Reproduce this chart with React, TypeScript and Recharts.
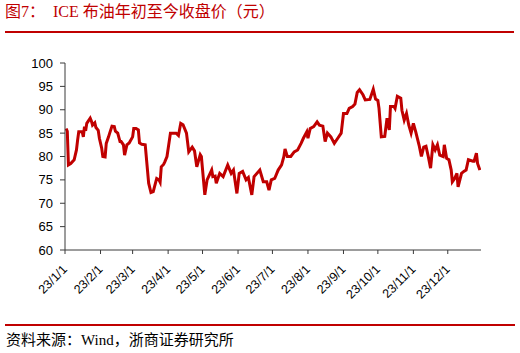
import { Line, LineChart, XAxis, YAxis } from 'recharts'

// 收盘价，日期为 2023 年的 月/日
const dates = [
  '1/2', '1/3', '1/4', '1/6', '1/9', '1/11', '1/12', '1/13', '1/16', '1/17', '1/18', '1/19', '1/20', '1/23', '1/24', '1/25', '1/27', '1/28', '1/30', '1/31',
  '2/2', '2/3', '2/5', '2/6', '2/8', '2/9', '2/11', '2/13', '2/14', '2/16', '2/18', '2/19', '2/21', '2/22', '2/24', '2/26',
  '3/1', '3/2', '3/4', '3/6', '3/7', '3/9', '3/12', '3/15', '3/17', '3/19', '3/22', '3/24', '3/25', '3/26', '3/28', '3/29', '3/31',
  '4/3', '4/8', '4/10', '4/12', '4/14', '4/17', '4/19', '4/22', '4/24', '4/26', '4/29', '4/30',
  '5/3', '5/5', '5/9', '5/10', '5/12', '5/13', '5/16', '5/19', '5/23', '5/26', '5/28', '5/31',
  '6/2', '6/5', '6/8', '6/10', '6/13', '6/15', '6/20', '6/23', '6/26', '6/28', '6/30',
  '7/3', '7/6', '7/9', '7/11', '7/12', '7/14', '7/17', '7/20', '7/23', '7/26', '7/28', '7/31',
  '8/1', '8/3', '8/6', '8/9', '8/11', '8/14', '8/16', '8/18', '8/21', '8/24', '8/27', '8/30',
  '9/1', '9/4', '9/6', '9/9', '9/11', '9/13', '9/15', '9/18', '9/20', '9/24', '9/27', '9/29',
  '10/1', '10/2', '10/4', '10/7', '10/9', '10/11', '10/12', '10/15', '10/16', '10/18', '10/21', '10/22', '10/24', '10/26', '10/28', '10/30',
  '11/1', '11/3', '11/6', '11/8', '11/10', '11/12', '11/14', '11/16', '11/18', '11/20', '11/22', '11/24', '11/27', '11/28', '11/30',
  '12/2', '12/4', '12/5', '12/7', '12/9', '12/10', '12/13', '12/15', '12/17', '12/19', '12/23', '12/24', '12/26', '12/27', '12/29',
]

const closes = [
  86.0, 85.4, 78.2, 78.5, 79.3, 81.4, 83.5, 85.3, 85.3, 84.2, 86.4, 85.5, 87.1, 88.2, 87.6, 86.7, 87.2, 86.2, 85.6, 83.9,
  81.8, 80.0, 79.9, 82.8, 84.2, 85.0, 86.5, 86.4, 85.4, 85.0, 83.2, 83.2, 82.5, 80.3, 82.5, 82.9,
  84.2, 86.0, 86.0, 85.7, 82.9, 82.6, 82.5, 74.3, 72.3, 72.5, 75.3, 75.0, 74.5, 77.8, 78.3, 78.8, 80.0,
  85.0, 85.0, 84.5, 87.1, 86.8, 85.0, 81.0, 82.0, 81.2, 77.8, 80.4, 80.0,
  71.8, 75.0, 77.1, 75.7, 75.8, 74.3, 76.4, 75.7, 78.2, 76.4, 77.1, 72.1,
  76.4, 76.8, 75.0, 75.5, 71.8, 75.7, 77.1, 74.6, 74.6, 72.8, 75.0,
  75.3, 77.1, 78.2, 80.0, 81.6, 80.0, 80.0, 81.0, 81.4, 82.8, 83.9, 85.3,
  83.9, 86.0, 86.4, 87.4, 86.7, 86.5, 83.2, 85.0, 84.2, 82.8, 83.9, 85.0,
  89.2, 89.2, 90.3, 90.7, 91.2, 93.7, 94.3, 93.2, 92.1, 92.2, 94.4, 92.3,
  92.0, 90.3, 84.2, 84.3, 88.2, 85.7, 90.7, 90.7, 90.3, 92.9, 92.5, 89.9, 87.8, 89.2, 86.7, 85.0,
  87.1, 85.3, 82.4, 80.0, 82.0, 82.2, 80.0, 77.5, 82.5, 81.4, 82.5, 80.3, 80.0, 82.5, 79.6,
  79.3, 77.1, 74.6, 75.3, 76.4, 73.5, 76.4, 76.8, 77.1, 79.3, 79.0, 79.0, 80.7, 78.5, 77.1,
]

const monthStarts = [0, 31, 59, 90, 120, 151, 181, 212, 243, 273, 304, 334]
const monthLabels = ['23/1/1', '23/2/1', '23/3/1', '23/4/1', '23/5/1', '23/6/1', '23/7/1', '23/8/1', '23/9/1', '23/10/1', '23/11/1', '23/12/1']
const yTicks = [60, 65, 70, 75, 80, 85, 90, 95, 100]

const RED = '#C00000'
const AXIS = '#3a3a3a'

function dayOfYear(md: string) {
  const [m, d] = md.split('/').map(Number)
  return monthStarts[m - 1] + d - 1
}

const data = dates.map((d, i) => ({ day: dayOfYear(d), close: closes[i] }))

function DateTick(props: any) {
  const { x, y, payload } = props
  const idx = monthStarts.indexOf(payload.value)
  const px = x + 3
  const py = y + 14
  return (
    <text
      x={px}
      y={py}
      transform={`rotate(-45 ${px} ${py})`}
      textAnchor="end"
      fontSize={12.5}
      fontFamily="'Liberation Sans', Arial, sans-serif"
      fill="#000"
    >
      {monthLabels[idx]}
    </text>
  )
}

export default function App() {
  return (
    <div style={{ position: 'relative', width: 520, height: 353, background: '#fff', overflow: 'hidden' }}>
      <style>{'body{margin:0}'}</style>
      <div
        style={{
          position: 'absolute',
          left: 5,
          top: 4,
          fontSize: 16,
          lineHeight: '16px',
          color: RED,
          whiteSpace: 'pre',
          fontFamily: "'Liberation Serif', 'Noto Sans CJK SC', serif",
        }}
      >
        {'图7：  ICE 布油年初至今收盘价（元）'}
      </div>
      <div style={{ position: 'absolute', left: 5, top: 31, width: 509, height: 2, background: RED }} />

      <div style={{ position: 'absolute', left: 0, top: 0 }}>
        <LineChart width={520} height={320} data={data} margin={{ top: 63, right: 39, left: 15, bottom: 30 }}>
          <XAxis
            dataKey="day"
            type="number"
            domain={[0, 363]}
            ticks={monthStarts}
            interval={0}
            height={40}
            tick={<DateTick />}
            tickSize={4}
            tickLine={{ stroke: AXIS }}
            axisLine={{ stroke: AXIS }}
            allowDataOverflow
          />
          <YAxis
            type="number"
            domain={[60, 100]}
            ticks={yTicks}
            interval={0}
            width={50}
            tickSize={5}
            tickMargin={7}
            tick={{ fontSize: 13, fill: '#000', fontFamily: "'Liberation Sans', Arial, sans-serif" }}
            tickLine={{ stroke: AXIS }}
            axisLine={{ stroke: AXIS }}
          />
          <Line
            type="linear"
            dataKey="close"
            stroke={RED}
            strokeWidth={3}
            dot={false}
            isAnimationActive={false}
          />
        </LineChart>
      </div>

      <div style={{ position: 'absolute', left: 5, top: 324, width: 510, height: 2, background: RED }} />
      <div
        style={{
          position: 'absolute',
          left: 6,
          top: 333,
          fontSize: 15,
          lineHeight: '15px',
          color: '#000',
          whiteSpace: 'pre',
          fontFamily: "'Liberation Serif', 'Noto Sans CJK SC', serif",
        }}
      >
        {'资料来源：Wind，浙商证券研究所'}
      </div>
    </div>
  )
}
